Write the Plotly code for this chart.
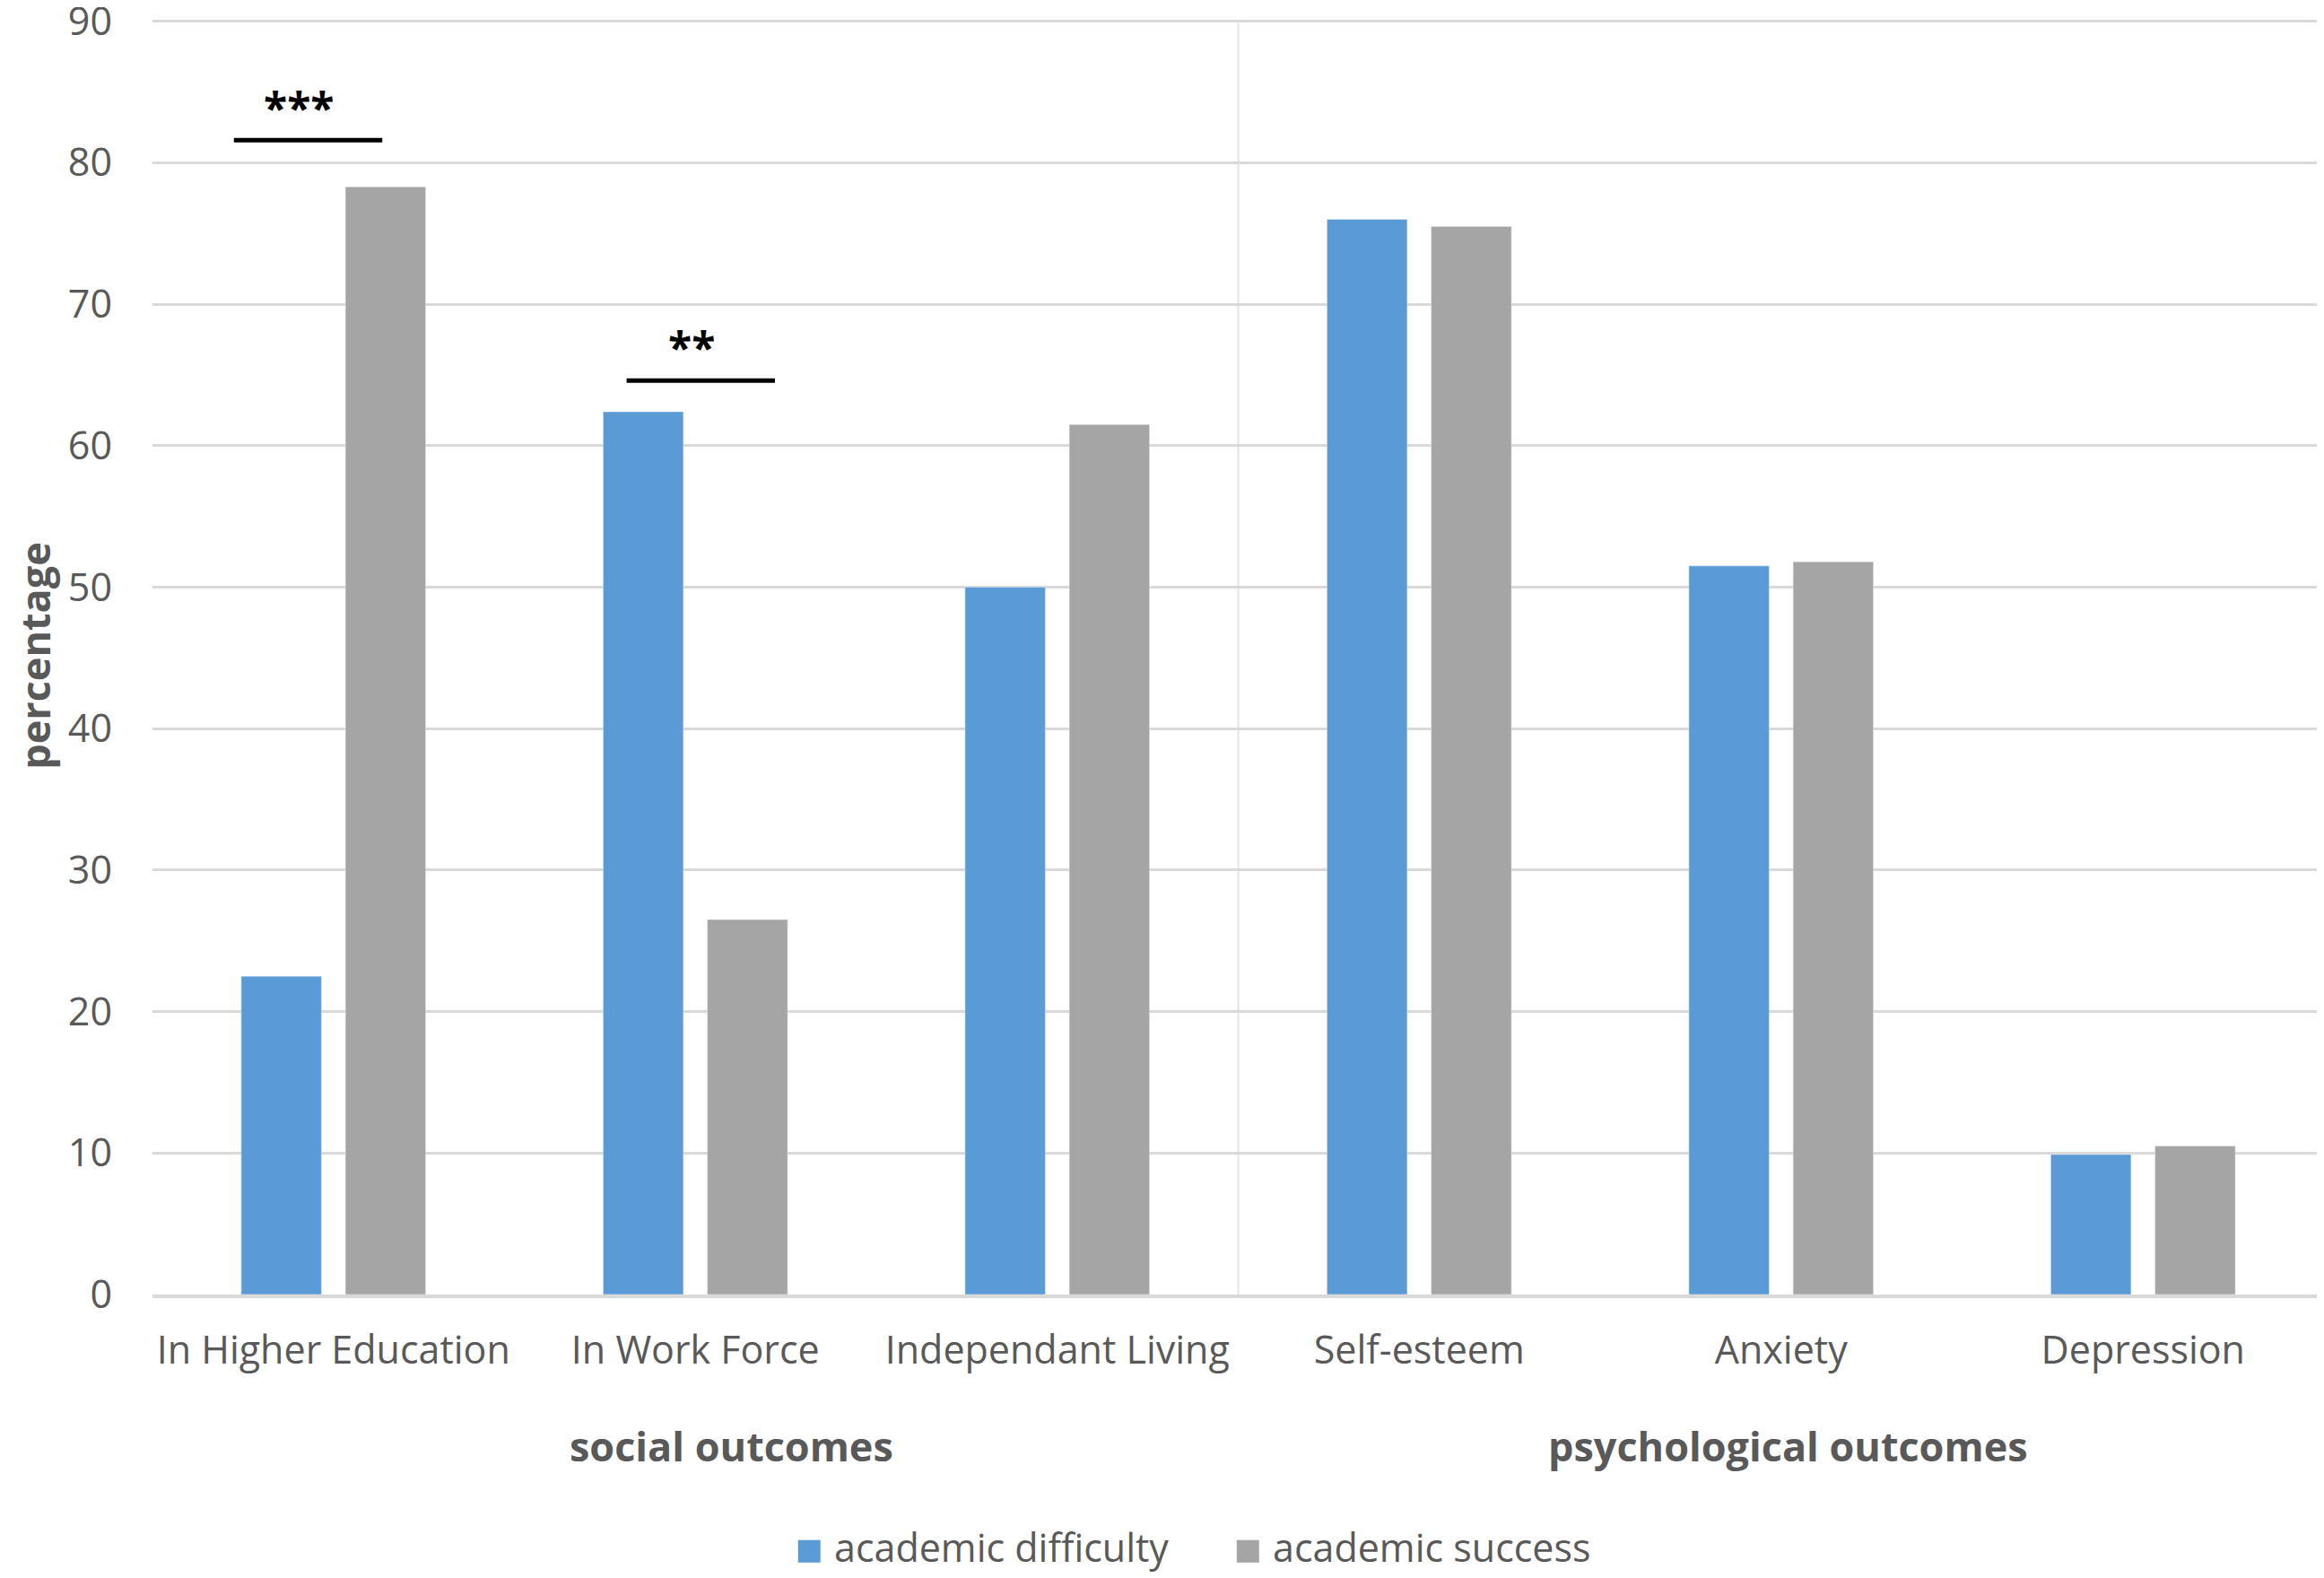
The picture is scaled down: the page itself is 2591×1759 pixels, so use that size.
import plotly.graph_objects as go

# data
categories = ["In Higher Education", "In Work Force", "Independant Living",
              "Self-esteem", "Anxiety", "Depression"]
difficulty = [22.5, 62.4, 50.0, 76.0, 51.5, 9.9]
success = [78.3, 26.5, 61.5, 75.5, 51.8, 10.5]
y_ticks = [0, 10, 20, 30, 40, 50, 60, 70, 80, 90]

group_names = ["social outcomes", "psychological outcomes"]
group_pos = [1.1, 4.02]

# significance markers: label, centre x (category units), bar y, text y
sig_labels = ["***", "**"]
sig_x = [-0.07, 1.015]
sig_line_y = [81.6, 64.6]
sig_text_y = [83.9, 67.0]

series_names = ["academic difficulty", "academic success"]

FONT = "Open Sans"
GREY_TXT = "#595959"
BLUE = "#5B9BD5"
GREY = "#A5A5A5"
colors = [BLUE, GREY]

xs = list(range(len(categories)))
fig = go.Figure()
fig.add_trace(go.Bar(x=xs, y=difficulty, name=series_names[0],
                     marker_color=BLUE, showlegend=False))
fig.add_trace(go.Bar(x=xs, y=success, name=series_names[1],
                     marker_color=GREY, showlegend=False))

# divider between the two outcome groups
fig.add_shape(type="line", x0=2.5, x1=2.5, y0=0, y1=90, xref="x", yref="y",
              line=dict(color="#E4E4E4", width=2), layer="below")

for lab, cx, ly, ty in zip(sig_labels, sig_x, sig_line_y, sig_text_y):
    fig.add_shape(type="line", x0=cx - 0.205, x1=cx + 0.205, y0=ly, y1=ly,
                  xref="x", yref="y", line=dict(color="black", width=5))
    fig.add_annotation(x=cx - 0.025, y=ty, text="<b>%s</b>" % lab, showarrow=False,
                       xref="x", yref="y", font=dict(size=48, color="black", family=FONT))

for name, gx in zip(group_names, group_pos):
    fig.add_annotation(x=gx, y=-0.118, xref="x", yref="paper", text="<b>%s</b>" % name,
                       showarrow=False, yanchor="middle",
                       font=dict(size=45, color=GREY_TXT, family=FONT))

# legend drawn by hand so the colour keys are as big as in the original
leg_y = -0.198
sq_h = 0.0088
for name, col, x0 in zip(series_names, colors, [0.2973, 0.4993]):
    fig.add_shape(type="rect", xref="paper", yref="paper", x0=x0, x1=x0 + 0.0103,
                  y0=leg_y - sq_h - 0.003, y1=leg_y + sq_h - 0.003,
                  fillcolor=col, line=dict(width=0))
    fig.add_annotation(x=x0 + 0.0157, y=leg_y, xref="paper", yref="paper", text=name,
                       showarrow=False, xanchor="left", yanchor="middle",
                       font=dict(size=43, color=GREY_TXT, family=FONT))

fig.update_layout(
    width=2591, height=1759,
    plot_bgcolor="white", paper_bgcolor="white",
    margin=dict(l=162, r=8, t=11, b=324),
    barmode="group", bargap=0.424, bargroupgap=0.23,
    font=dict(family=FONT, size=43, color=GREY_TXT),
    showlegend=False,
)
fig.update_xaxes(tickvals=xs, ticktext=categories, automargin=False,
                 range=[-0.5, len(categories) - 0.5], showgrid=False,
                 showline=True, linecolor="#D9D9D9", linewidth=4,
                 ticks="", ticklabelstandoff=21, tickfont=dict(size=43))
fig.update_yaxes(range=[0, 90.3], tickvals=y_ticks, showgrid=True, gridcolor="#D9D9D9",
                 gridwidth=3, zeroline=False, ticks="", ticklabelstandoff=44,
                 tickfont=dict(size=43), automargin=False, ticklabeloverflow="allow",
                 title=dict(text="<b>percentage</b>", font=dict(size=45, color=GREY_TXT),
                            standoff=20))

fig.write_html("out.html")
